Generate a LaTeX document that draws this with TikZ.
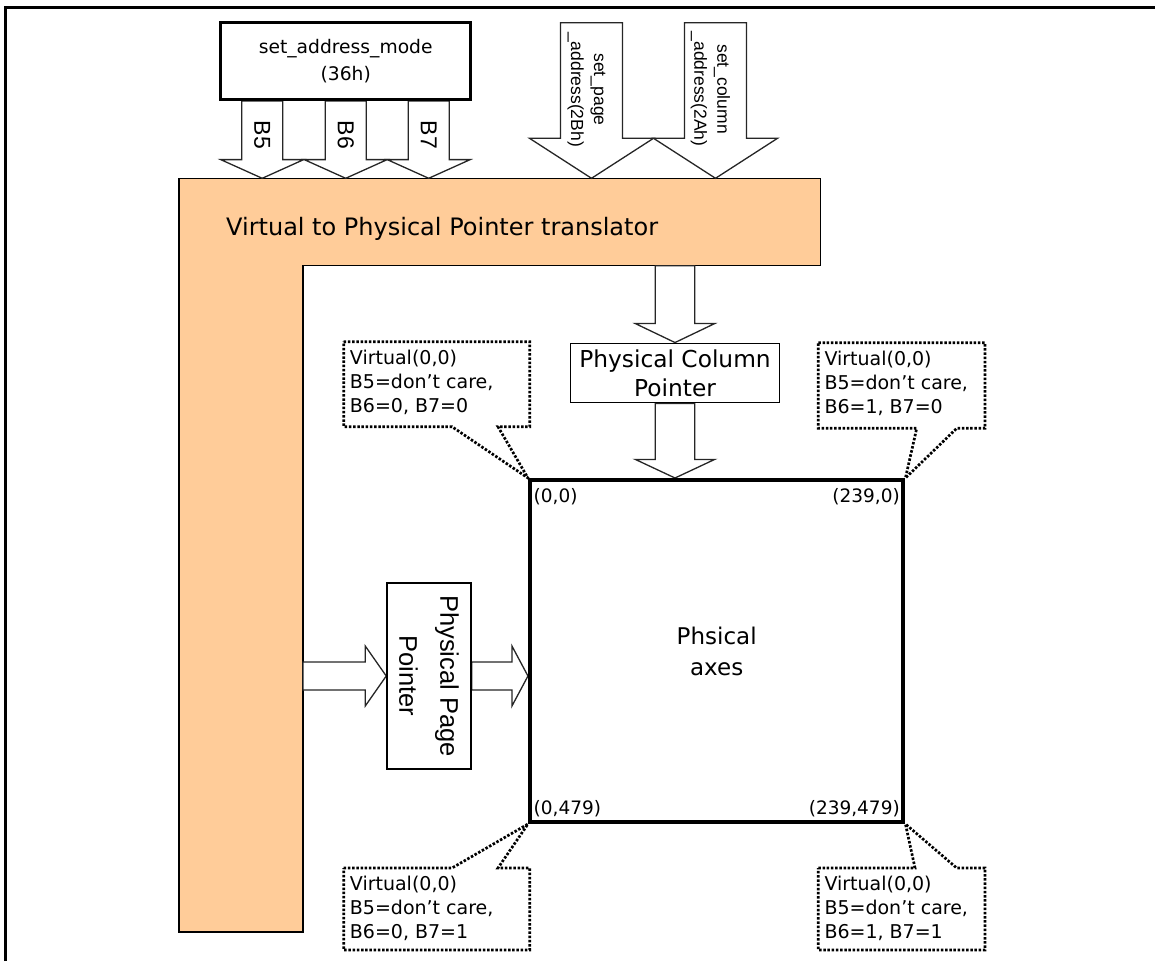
\documentclass[tikz,border=0pt]{standalone}
\usepackage{fontspec}
\setmainfont{DejaVu Sans}
\newfontfamily\arialfont{Liberation Sans}
\usepackage{tikz}
\usetikzlibrary{
  backgrounds,
  calc
}
\definecolor{xlatfill}{HTML}{FFCC99}
\tikzset{
  arrowbody/.style={draw=black!85, fill=white, line width=1.3pt, line join=miter},
  blockbox/.style={draw, fill=white, line width=1.5pt, inner sep=0pt, align=center},
  notebox/.style={line width=2.7pt, dash pattern=on 2.5pt off 1.7pt},
  notetext/.style={anchor=north west, inner sep=0pt, align=left, font=\fontsize{19}{24}\selectfont},
  cornertext/.style={inner sep=0pt, font=\fontsize{18.5}{20}\selectfont},
  rottext/.style={rotate=-90, inner sep=0pt, align=center}
}
% block arrow: start, tip, stem half width, head half width, head length
\newcommand{\blockarrow}[5]{%
  \coordinate (hb) at ($(#2)!#5!(#1)$);
  \draw[arrowbody] ($(#1)!#3!90:(#2)$) -- ($(hb)!#3!90:(#2)$) -- ($(hb)!#4!90:(#2)$) -- (#2)
    -- ($(hb)!#4!-90:(#2)$) -- ($(hb)!#3!-90:(#2)$) -- ($(#1)!#3!-90:(#2)$) -- cycle;
}

\begin{document}
\begin{tikzpicture}[x=1pt,y=-1pt]
	\useasboundingbox (0,0) rectangle (1155,961);
	\draw[line width=3pt] (5,961) -- (5,7) -- (1155,7);

	\node[blockbox, line width=3.5pt, minimum width=250pt, minimum height=76.6pt,
		font=\fontsize{18.7}{27}\selectfont] (sam) at (345.7,61) {set\_address\_mode\\(36h)};
	\node[blockbox, minimum width=208.6pt, minimum height=59.4pt,
		font=\fontsize{23.3}{28.7}\selectfont] (pcp) at (675,373) {Physical Column\\Pointer};
	% rotated: north is on the right, south on the left
	\node[blockbox, rotate=-90, minimum width=186pt, minimum height=84pt,
		font=\arialfont\fontsize{25.5}{41}\selectfont] (ppp) at (429,676) {Physical Page\\Pointer};
	\node[draw, line width=4pt, minimum width=373.5pt, minimum height=342pt, align=center,
		font=\fontsize{23}{31}\selectfont] (phys) at (716.7,651) {Phsical\\axes};

	\begin{scope}[on background layer]
		\draw[fill=xlatfill, line width=1.5pt] (179,178.3) coordinate (xnw) -- (820.7,178.3)
			-- (820.7,265.7) -- (303,265.7) coordinate (xin) -- (303,932) -- (179,932) -- cycle;
		\foreach \dx/\bl in {-83.5/B5,0/B6,83/B7}{
			\coordinate (s\bl) at ($(sam.south)+(\dx,0)$);
			\coordinate (t\bl) at (s\bl |- xnw);
			\blockarrow{s\bl}{t\bl}{20.5pt}{41.5pt}{18.7pt}
		}
		\coordinate (pgs) at (591.5,22.7);
		\coordinate (pgt) at (pgs |- xnw);
		\blockarrow{pgs}{pgt}{31pt}{62pt}{40pt}
		\coordinate (cls) at (715.5,22.7);
		\coordinate (clt) at (cls |- xnw);
		\blockarrow{cls}{clt}{31pt}{62pt}{40pt}
		\coordinate (cs) at (pcp.north |- xin);
		\blockarrow{cs}{pcp.north}{19.7pt}{39.7pt}{19pt}
		\coordinate (ct) at (pcp.south |- phys.north);
		\blockarrow{pcp.south}{ct}{19.7pt}{39.7pt}{18.6pt}
		\coordinate (hs) at (xin |- ppp.center);
		\blockarrow{hs}{ppp.south}{14pt}{30pt}{21pt}
		\coordinate (ht) at (phys.west |- ppp.north);
		\blockarrow{ppp.north}{ht}{14pt}{30pt}{16pt}
	\end{scope}

	\node[anchor=base west, inner sep=0pt, font=\fontsize{24}{28}\selectfont] (xlat) at (226,235)
		{Virtual to Physical Pointer translator};
	\foreach \bl in {B5,B6,B7}
		\node[rottext, font=\arialfont\fontsize{23}{23}\selectfont] (l\bl) at ($(s\bl)!0.44!(t\bl)$) {\bl};
	\node[rottext, font=\arialfont\fontsize{17.5}{23}\selectfont] (pagetxt) at (586.5,89.5)
		{set\_page\\\_address(2Bh)};
	\node[rottext, font=\arialfont\fontsize{17.5}{23}\selectfont] (coltxt) at (710.5,89)
		{set\_column\\\_address(2Ah)};

	% corner notes
	\draw[notebox] (343.7,341.7) -- (529.7,341.7) -- (529.7,426.7) -- (498,426.7)
		-- (phys.north west) -- (452,426.7) -- (343.7,426.7) -- cycle;
	\draw[notebox] (818.3,342.7) -- (985,342.7) -- (985,428.3) -- (956.7,428.3)
		-- (phys.north east) -- (916.7,428.3) -- (818.3,428.3) -- cycle;
	\draw[notebox] (343.7,868) -- (452,868) -- (phys.south west) -- (498,868)
		-- (529.7,868) -- (529.7,950) -- (343.7,950) -- cycle;
	\draw[notebox] (818.3,868) -- (915,868) -- (phys.south east) -- (956.7,868)
		-- (985,868) -- (985,950) -- (818.3,950) -- cycle;
	\node[notetext] (ntl) at (349.7,349.7) {Virtual(0,0)\\B5=don't care,\\B6=0, B7=0};
	\node[notetext] (ntr) at (824.3,350.7) {Virtual(0,0)\\B5=don't care,\\B6=1, B7=0};
	\node[notetext] (nbl) at (349.7,876) {Virtual(0,0)\\B5=don't care,\\B6=0, B7=1};
	\node[notetext] (nbr) at (824.3,876) {Virtual(0,0)\\B5=don't care,\\B6=1, B7=1};

	\node[cornertext, anchor=base west] (c00) at ($(phys.north west)+(5.5,24)$) {(0,0)};
	\node[cornertext, anchor=base east] (c2390) at ($(phys.north east)+(-5.5,24)$) {(239,0)};
	\node[cornertext, anchor=base west] (c0479) at ($(phys.south west)+(5.5,-10)$) {(0,479)};
	\node[cornertext, anchor=base east] (c239479) at ($(phys.south east)+(-5.5,-10)$) {(239,479)};
\end{tikzpicture}
\end{document}
